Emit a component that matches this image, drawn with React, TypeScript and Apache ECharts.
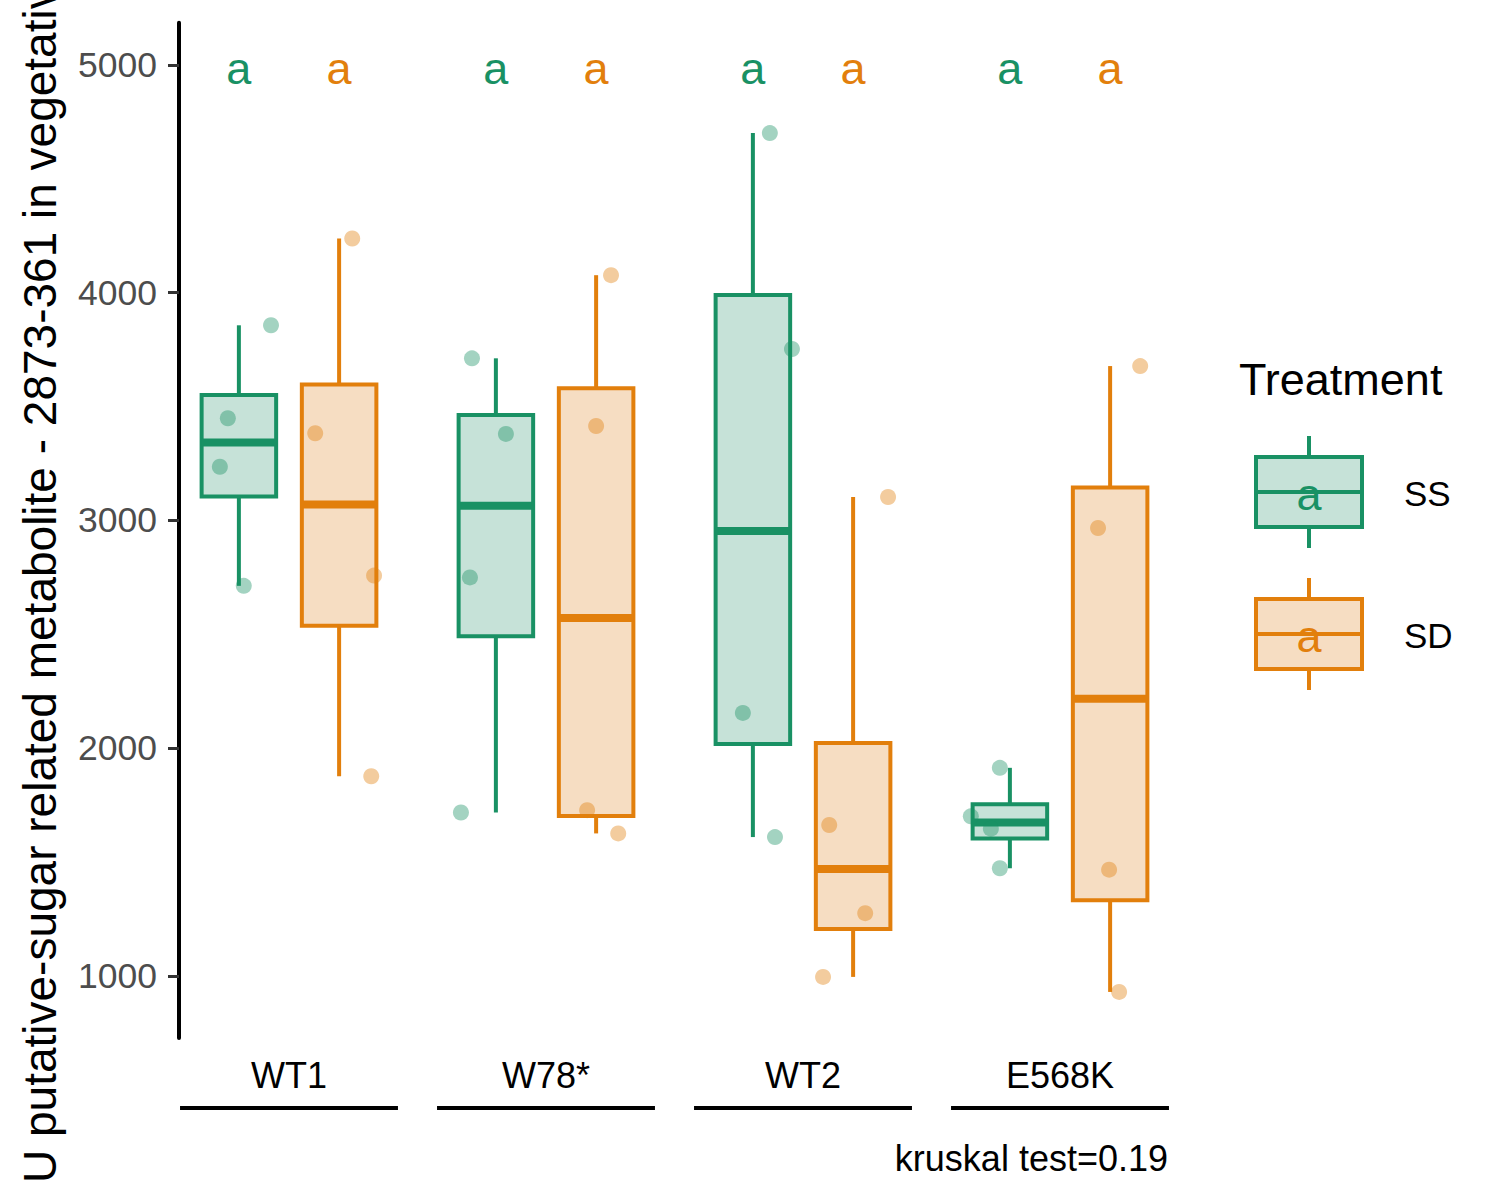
import React, { useEffect, useRef } from "react";
import * as echarts from "echarts";

// ---------- data ----------
const categories = ["WT1", "W78*", "WT2", "E568K"];
const treatments = ["SS", "SD"];
const yTicks = [1000, 2000, 3000, 4000, 5000];

const ssValues = [
  [3857, 3449, 3236, 2713],
  [3712, 3380, 2750, 1718],
  [4701, 3753, 2155, 1610],
  [1914, 1701, 1647, 1473],
];
const sdValues = [
  [4238, 3383, 2758, 1877],
  [4077, 3415, 1728, 1626],
  [3103, 1663, 1276, 996],
  [3678, 2967, 1467, 930],
];
// horizontal jitter of each observation (category units)
const ssJitter = [
  [0.125, -0.043, -0.074, 0.019],
  [-0.093, 0.039, -0.101, -0.136],
  [0.066, 0.152, -0.039, 0.086],
  [-0.039, -0.152, -0.074, -0.039],
];
const sdJitter = [
  [0.051, -0.093, 0.136, 0.125],
  [0.058, 0.0, -0.035, 0.086],
  [0.136, -0.093, 0.047, -0.117],
  [0.117, -0.047, -0.004, 0.035],
];
// compact letter display
const ssLetters = ["a", "a", "a", "a"];
const sdLetters = ["a", "a", "a", "a"];
const letterValue = 4983;
const kruskalText = "kruskal test=0.19";
const yTitle = "U putative-sugar related metabolite - 2873-361 in vegetative";

// ---------- styling ----------
const FONT = '"Liberation Sans", Arial, Helvetica, sans-serif';
const GREEN = "#199164";
const ORANGE = "#E27F0C";
const GREEN_FILL = "#C6E2D8";
const ORANGE_FILL = "#F6DDC2";
const GREEN_PT = "rgba(25,145,100,0.5)";
const ORANGE_PT = "rgba(226,127,12,0.5)";

const Y_MIN = 727.3;
const Y_MAX = 5185.6;
const X_MIN = 0.572;
const X_MAX = 4.428;
const DODGE = 0.195;
const BOX_W = 0.29;
const BRACKET_HALF = 0.424;
const LW = 4;
const MED_LW = 8;

function quantile(sorted: number[], p: number) {
  const h = (sorted.length - 1) * p;
  const lo = Math.floor(h);
  const hi = Math.min(lo + 1, sorted.length - 1);
  return sorted[lo] + (h - lo) * (sorted[hi] - sorted[lo]);
}

function boxStats(values: number[][], offset: number) {
  return values.map((vals, i) => {
    const s = [...vals].sort((a, b) => a - b);
    return [
      i + 1 + offset,
      s[0],
      quantile(s, 0.25),
      quantile(s, 0.5),
      quantile(s, 0.75),
      s[s.length - 1],
    ];
  });
}

function pointData(values: number[][], jitter: number[][], offset: number) {
  const out: number[][] = [];
  values.forEach((vals, i) => {
    vals.forEach((v, j) => out.push([i + 1 + offset + jitter[i][j], v]));
  });
  return out;
}

function boxRenderer(stroke: string, fill: string) {
  return (params: any, api: any) => {
    const x = api.value(0);
    const pMin = api.coord([x, api.value(1)]);
    const pQ1 = api.coord([x, api.value(2)]);
    const pMed = api.coord([x, api.value(3)]);
    const pQ3 = api.coord([x, api.value(4)]);
    const pMax = api.coord([x, api.value(5)]);
    const half = api.size([BOX_W, 0])[0] / 2;
    const px = pMed[0];
    return {
      type: "group",
      children: [
        {
          type: "line",
          shape: { x1: px, y1: pMax[1], x2: px, y2: pQ3[1] },
          style: { stroke, lineWidth: LW },
        },
        {
          type: "line",
          shape: { x1: px, y1: pQ1[1], x2: px, y2: pMin[1] },
          style: { stroke, lineWidth: LW },
        },
        {
          type: "rect",
          shape: { x: px - half, y: pQ3[1], width: 2 * half, height: pQ1[1] - pQ3[1] },
          style: { fill, stroke, lineWidth: LW },
        },
        {
          type: "line",
          shape: { x1: px - half, y1: pMed[1], x2: px + half, y2: pMed[1] },
          style: { stroke, lineWidth: MED_LW },
        },
      ],
    };
  };
}

function letterRenderer(color: string) {
  return (params: any, api: any) => {
    const p = api.coord([api.value(0), api.value(1)]);
    return {
      type: "text",
      x: p[0],
      y: p[1],
      style: {
        text: String(api.value(2)),
        fill: color,
        fontSize: 45,
        fontFamily: FONT,
        align: "center",
        verticalAlign: "middle",
      },
    };
  };
}

function legendKey(top: number, stroke: string, fill: string, label: string, letter: string) {
  const left = 1256;
  const w = 106;
  const h = 70;
  const cx = left + w / 2;
  return [
    { type: "line", shape: { x1: cx, y1: top - 21, x2: cx, y2: top }, style: { stroke, lineWidth: LW } },
    { type: "line", shape: { x1: cx, y1: top + h, x2: cx, y2: top + h + 21 }, style: { stroke, lineWidth: LW } },
    { type: "rect", shape: { x: left, y: top, width: w, height: h }, style: { fill, stroke, lineWidth: LW } },
    { type: "line", shape: { x1: left, y1: top + h / 2, x2: left + w, y2: top + h / 2 }, style: { stroke, lineWidth: LW } },
    {
      type: "text",
      x: cx,
      y: top + 37,
      style: { text: letter, fill: stroke, fontSize: 45, fontFamily: FONT, align: "center", verticalAlign: "middle" },
    },
    {
      type: "text",
      x: 1404,
      y: top + 36,
      style: { text: label, fill: "#000", fontSize: 35, fontFamily: FONT, align: "left", verticalAlign: "middle" },
    },
  ];
}

export default function App() {
  const ref = useRef<HTMLDivElement>(null);

  useEffect(() => {
    document.body.style.margin = "0";
    if (!ref.current) return;
    const chart = echarts.init(ref.current, undefined, { renderer: "svg" });

    const ssBoxes = boxStats(ssValues, -DODGE);
    const sdBoxes = boxStats(sdValues, DODGE);
    const ssPts = pointData(ssValues, ssJitter, -DODGE);
    const sdPts = pointData(sdValues, sdJitter, DODGE);
    const ssLetterData = ssLetters.map((l, i) => [i + 1 - DODGE, letterValue, l]);
    const sdLetterData = sdLetters.map((l, i) => [i + 1 + DODGE, letterValue, l]);
    const bracketData = categories.map((_, i) => [i + 1]);

    const option: any = {
      animation: false,
      grid: { left: 179, top: 22.7, width: 991, height: 1015.4 },
      xAxis: {
        type: "value",
        min: X_MIN,
        max: X_MAX,
        axisLine: { show: false, onZero: false },
        axisTick: { show: false },
        splitLine: { show: false },
        axisLabel: {
          customValues: [1, 2, 3, 4],
          formatter: (v: number) => categories[Math.round(v) - 1] ?? "",
          fontSize: 36,
          fontFamily: FONT,
          color: "#000",
          margin: 19,
        },
      },
      yAxis: {
        type: "value",
        min: Y_MIN,
        max: Y_MAX,
        axisLine: { show: true, onZero: false, lineStyle: { color: "#000", width: 4 } },
        axisTick: { show: true, customValues: yTicks, length: 11, lineStyle: { color: "#333333", width: 3 } },
        axisLabel: {
          customValues: yTicks,
          formatter: (v: number) => String(v),
          fontSize: 35.5,
          fontFamily: FONT,
          color: "#4D4D4D",
          margin: 22,
        },
        splitLine: { show: false },
      },
      series: [
        { type: "custom", name: treatments[0], renderItem: boxRenderer(GREEN, GREEN_FILL), data: ssBoxes, z: 2 },
        { type: "custom", name: treatments[1], renderItem: boxRenderer(ORANGE, ORANGE_FILL), data: sdBoxes, z: 2 },
        {
          type: "scatter",
          data: ssPts,
          symbol: "circle",
          symbolSize: 16,
          itemStyle: { color: GREEN_PT },
          z: 3,
        },
        {
          type: "scatter",
          data: sdPts,
          symbol: "circle",
          symbolSize: 16,
          itemStyle: { color: ORANGE_PT },
          z: 3,
        },
        { type: "custom", renderItem: letterRenderer(GREEN), data: ssLetterData, z: 4, clip: false },
        { type: "custom", renderItem: letterRenderer(ORANGE), data: sdLetterData, z: 4, clip: false },
        {
          type: "custom",
          clip: false,
          data: bracketData,
          renderItem: (params: any, api: any) => {
            const c = api.value(0);
            const a = api.coord([c - BRACKET_HALF, Y_MIN]);
            const b = api.coord([c + BRACKET_HALF, Y_MIN]);
            const y = a[1] + 70;
            return {
              type: "line",
              shape: { x1: a[0], y1: y, x2: b[0], y2: y },
              style: { stroke: "#000", lineWidth: 4 },
            };
          },
        },
      ],
      graphic: [
        {
          type: "text",
          x: 40,
          y: 1183,
          rotation: Math.PI / 2,
          style: { text: yTitle, fill: "#000", fontSize: 46, fontFamily: FONT, align: "left", verticalAlign: "middle" },
        },
        {
          type: "text",
          x: 1168,
          y: 1158,
          style: { text: kruskalText, fill: "#000", fontSize: 36, fontFamily: FONT, align: "right", verticalAlign: "middle" },
        },
        {
          type: "text",
          x: 1239,
          y: 379,
          style: { text: "Treatment", fill: "#000", fontSize: 45, fontFamily: FONT, align: "left", verticalAlign: "middle" },
        },
        ...legendKey(457, GREEN, GREEN_FILL, treatments[0], ssLetters[0]),
        ...legendKey(599, ORANGE, ORANGE_FILL, treatments[1], sdLetters[0]),
      ],
    };

    chart.setOption(option);
    return () => chart.dispose();
  }, []);

  return <div ref={ref} style={{ width: 1500, height: 1200 }} />;
}
